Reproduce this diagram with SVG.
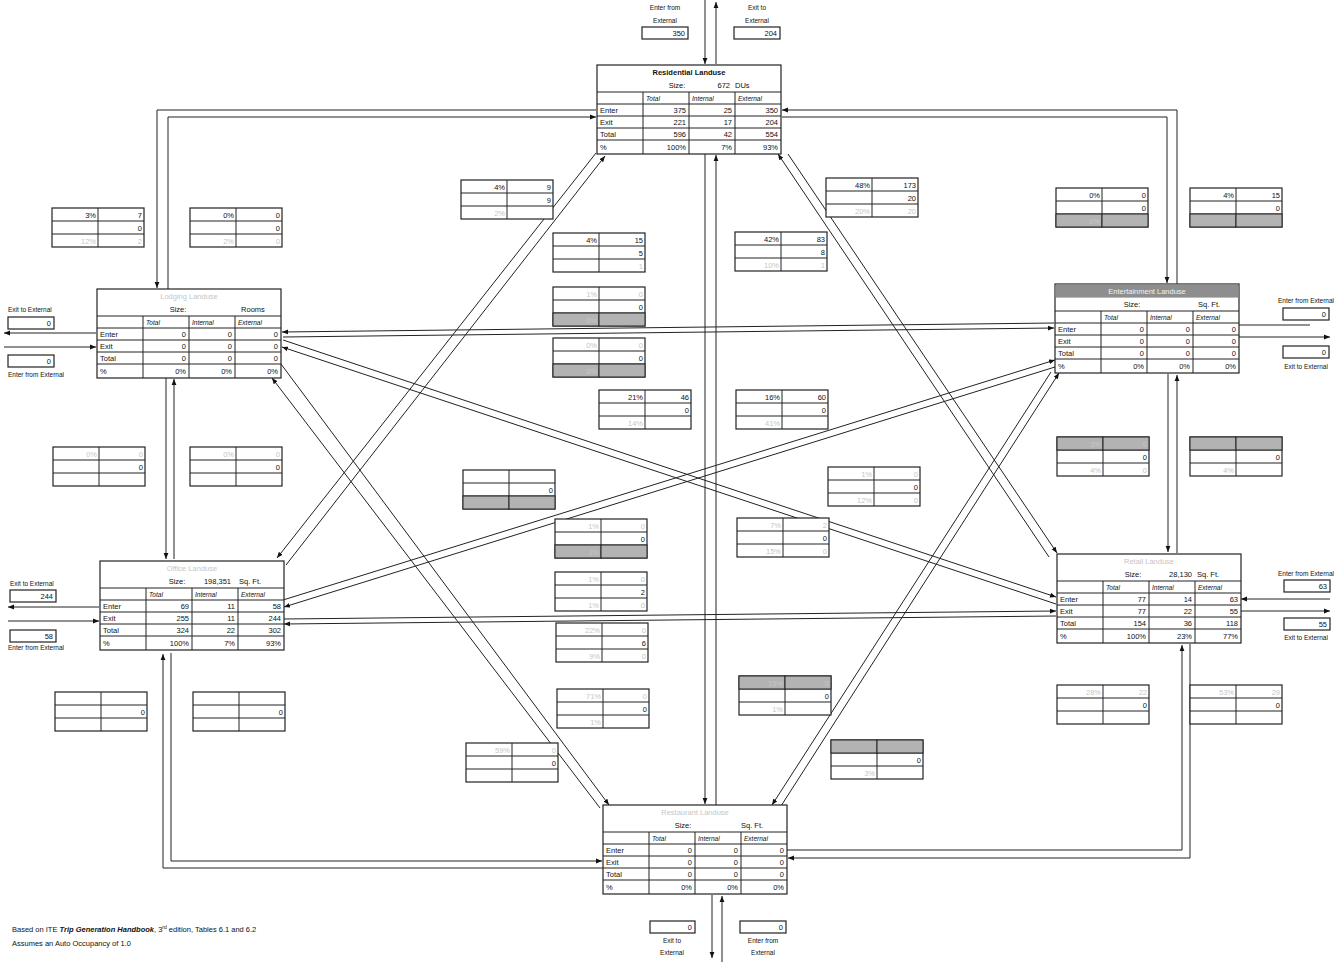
<svg xmlns="http://www.w3.org/2000/svg" xmlns:xlink="http://www.w3.org/1999/xlink" width="1338" height="962" viewBox="0 0 1338 962">
<style>
text{font-family:"Liberation Sans",Arial,sans-serif;font-size:7.5px;fill:#111}
.n{text-anchor:end}
.m{text-anchor:middle}
.f{fill:#c6c6c6}
.h{font-style:italic;font-size:6.5px}
.ti{font-weight:bold;font-size:7.5px}
.x{font-size:6.5px}
.ln{stroke:#222;stroke-width:1;fill:none}
.bx{fill:#fff;stroke:#222;stroke-width:1.2}
.sh{fill:#b3b3b3;stroke:#222;stroke-width:1}
</style>
<defs>
<marker id="ah" viewBox="0 0 10 10" refX="10" refY="5" markerWidth="6" markerHeight="6" orient="auto"><path d="M0,1 L10,5 L0,9 z" fill="#111"/></marker>
<g id="tbl">
<rect class="bx" x="0" y="0" width="184" height="89"/>
<path class="ln" d="M0,27H184M0,39H184M0,51H184M0,63H184M0,75H184M46,27V89M92,27V89M138,27V89"/>
<text class="h" x="49" y="36">Total</text><text class="h" x="95" y="36">Internal</text><text class="h" x="141" y="36">External</text>
<text x="3" y="48">Enter</text><text x="3" y="60">Exit</text><text x="3" y="72">Total</text><text x="3" y="85">%</text>
</g>
<g id="sb">
<rect class="bx" x="0" y="0" width="92" height="39"/>
<path class="ln" d="M0,13H92M0,26H92M46,0V39"/>
</g>
<g id="s1"><rect class="sh" x="0" y="0" width="46" height="13"/><rect class="sh" x="46" y="0" width="46" height="13"/></g>
<g id="s3"><rect class="sh" x="0" y="26" width="46" height="13"/><rect class="sh" x="46" y="26" width="46" height="13"/></g>
</defs>

<g id="connectors">
<!-- Residential - Lodging -->
<path class="ln" d="M596,110H157V288" marker-end="url(#ah)"/>
<path class="ln" d="M168,289V117H596" marker-end="url(#ah)"/>
<!-- Residential - Entertainment -->
<path class="ln" d="M782,117H1167V283" marker-end="url(#ah)"/>
<path class="ln" d="M1177,284V110H782" marker-end="url(#ah)"/>
<!-- Residential - Office -->
<line class="ln" x1="596" y1="153" x2="277" y2="558" marker-end="url(#ah)"/>
<line class="ln" x1="286" y1="565" x2="605" y2="156" marker-end="url(#ah)"/>
<!-- Residential - Retail -->
<line class="ln" x1="1049" y1="557" x2="778" y2="154" marker-end="url(#ah)"/>
<line class="ln" x1="788" y1="154" x2="1057" y2="553" marker-end="url(#ah)"/>
<!-- Residential - Restaurant -->
<line class="ln" x1="705" y1="154" x2="705" y2="804" marker-end="url(#ah)"/>
<line class="ln" x1="716" y1="805" x2="716" y2="155" marker-end="url(#ah)"/>
<!-- Lodging - Entertainment -->
<line class="ln" x1="1054" y1="323" x2="282" y2="332" marker-end="url(#ah)"/>
<line class="ln" x1="283" y1="337" x2="1054" y2="328" marker-end="url(#ah)"/>
<!-- Lodging - Office -->
<line class="ln" x1="166" y1="378" x2="166" y2="559" marker-end="url(#ah)"/>
<line class="ln" x1="174" y1="559" x2="174" y2="379" marker-end="url(#ah)"/>
<!-- Lodging - Retail -->
<line class="ln" x1="283" y1="340" x2="1056" y2="597" marker-end="url(#ah)"/>
<line class="ln" x1="1056" y1="604" x2="282" y2="347" marker-end="url(#ah)"/>
<!-- Lodging - Restaurant -->
<line class="ln" x1="281" y1="364" x2="609" y2="805" marker-end="url(#ah)"/>
<line class="ln" x1="600" y1="808" x2="272" y2="378" marker-end="url(#ah)"/>
<!-- Entertainment - Office -->
<line class="ln" x1="283" y1="600" x2="1055" y2="360" marker-end="url(#ah)"/>
<line class="ln" x1="1055" y1="367" x2="284" y2="607" marker-end="url(#ah)"/>
<!-- Entertainment - Retail -->
<line class="ln" x1="1168" y1="374" x2="1168" y2="552" marker-end="url(#ah)"/>
<line class="ln" x1="1177" y1="553" x2="1177" y2="375" marker-end="url(#ah)"/>
<!-- Entertainment - Restaurant -->
<line class="ln" x1="1051" y1="372" x2="772" y2="805" marker-end="url(#ah)"/>
<line class="ln" x1="781" y1="806" x2="1059" y2="373" marker-end="url(#ah)"/>
<!-- Office - Retail -->
<line class="ln" x1="283" y1="619" x2="1056" y2="611" marker-end="url(#ah)"/>
<line class="ln" x1="1056" y1="616" x2="284" y2="624" marker-end="url(#ah)"/>
<!-- Office - Restaurant -->
<path class="ln" d="M171,653V861H602" marker-end="url(#ah)"/>
<path class="ln" d="M603,868H163V654" marker-end="url(#ah)"/>
<!-- Retail - Restaurant -->
<path class="ln" d="M1190,644V858H788" marker-end="url(#ah)"/>
<path class="ln" d="M787,850H1182V645" marker-end="url(#ah)"/>
<!-- External arrows -->
<line class="ln" x1="705" y1="0" x2="705" y2="64" marker-end="url(#ah)"/>
<line class="ln" x1="716" y1="64" x2="716" y2="2" marker-end="url(#ah)"/>
<line class="ln" x1="96" y1="333" x2="4" y2="333" marker-end="url(#ah)"/>
<line class="ln" x1="4" y1="347" x2="96" y2="347" marker-end="url(#ah)"/>
<line class="ln" x1="1310" y1="325" x2="1224" y2="325" marker-end="url(#ah)"/>
<line class="ln" x1="1239" y1="337" x2="1330" y2="337" marker-end="url(#ah)"/>
<line class="ln" x1="99" y1="607" x2="8" y2="607" marker-end="url(#ah)"/>
<line class="ln" x1="8" y1="621" x2="99" y2="621" marker-end="url(#ah)"/>
<line class="ln" x1="1330" y1="599" x2="1241" y2="599" marker-end="url(#ah)"/>
<line class="ln" x1="1241" y1="611" x2="1330" y2="611" marker-end="url(#ah)"/>
<line class="ln" x1="712" y1="895" x2="712" y2="958" marker-end="url(#ah)"/>
<line class="ln" x1="722" y1="962" x2="722" y2="896" marker-end="url(#ah)"/>
</g>

<!-- Main tables -->
<g id="residential" transform="translate(597,65)">
<use xlink:href="#tbl"/>
<text class="ti m" x="92" y="10">Residential Landuse</text>
<text class="m" x="80" y="23">Size:</text><text class="n" x="133" y="23">672</text><text x="138" y="23">DUs</text>
<text class="n" x="89" y="48">375</text><text class="n" x="135" y="48">25</text><text class="n" x="181" y="48">350</text>
<text class="n" x="89" y="60">221</text><text class="n" x="135" y="60">17</text><text class="n" x="181" y="60">204</text>
<text class="n" x="89" y="72">596</text><text class="n" x="135" y="72">42</text><text class="n" x="181" y="72">554</text>
<text class="n" x="89" y="85">100%</text><text class="n" x="135" y="85">7%</text><text class="n" x="181" y="85">93%</text>
</g>

<g id="lodging" transform="translate(97,289)">
<use xlink:href="#tbl"/>
<text class="m f" x="92" y="10">Lodging Landuse</text>
<text class="m" x="81" y="23">Size:</text><text class="m" x="156" y="23">Rooms</text>
<text class="n" x="89" y="48">0</text><text class="n" x="135" y="48">0</text><text class="n" x="181" y="48">0</text>
<text class="n" x="89" y="60">0</text><text class="n" x="135" y="60">0</text><text class="n" x="181" y="60">0</text>
<text class="n" x="89" y="72">0</text><text class="n" x="135" y="72">0</text><text class="n" x="181" y="72">0</text>
<text class="n" x="89" y="85">0%</text><text class="n" x="135" y="85">0%</text><text class="n" x="181" y="85">0%</text>
</g>

<g id="entertainment" transform="translate(1055,284)">
<use xlink:href="#tbl"/>
<rect x="0.6" y="0.6" width="182.8" height="13" fill="#8e8e8e"/>
<text class="m" x="92" y="10" style="fill:#f2f2f2">Entertainment Landuse</text>
<text class="m" x="77" y="23">Size:</text><text class="m" x="154" y="23">Sq. Ft.</text>
<text class="n" x="89" y="48">0</text><text class="n" x="135" y="48">0</text><text class="n" x="181" y="48">0</text>
<text class="n" x="89" y="60">0</text><text class="n" x="135" y="60">0</text><text class="n" x="181" y="60">0</text>
<text class="n" x="89" y="72">0</text><text class="n" x="135" y="72">0</text><text class="n" x="181" y="72">0</text>
<text class="n" x="89" y="85">0%</text><text class="n" x="135" y="85">0%</text><text class="n" x="181" y="85">0%</text>
</g>

<g id="office" transform="translate(100,561)">
<use xlink:href="#tbl"/>
<text class="m f" x="92" y="10">Office Landuse</text>
<text class="m" x="77" y="23">Size:</text><text class="n" x="131" y="23">198,351</text><text x="139" y="23">Sq. Ft.</text>
<text class="n" x="89" y="48">69</text><text class="n" x="135" y="48">11</text><text class="n" x="181" y="48">58</text>
<text class="n" x="89" y="60">255</text><text class="n" x="135" y="60">11</text><text class="n" x="181" y="60">244</text>
<text class="n" x="89" y="72">324</text><text class="n" x="135" y="72">22</text><text class="n" x="181" y="72">302</text>
<text class="n" x="89" y="85">100%</text><text class="n" x="135" y="85">7%</text><text class="n" x="181" y="85">93%</text>
</g>

<g id="retail" transform="translate(1057,554)">
<use xlink:href="#tbl"/>
<text class="m f" x="92" y="10">Retail Landuse</text>
<text class="m" x="76" y="23">Size:</text><text class="n" x="135" y="23">28,130</text><text x="140" y="23">Sq. Ft.</text>
<text class="n" x="89" y="48">77</text><text class="n" x="135" y="48">14</text><text class="n" x="181" y="48">63</text>
<text class="n" x="89" y="60">77</text><text class="n" x="135" y="60">22</text><text class="n" x="181" y="60">55</text>
<text class="n" x="89" y="72">154</text><text class="n" x="135" y="72">36</text><text class="n" x="181" y="72">118</text>
<text class="n" x="89" y="85">100%</text><text class="n" x="135" y="85">23%</text><text class="n" x="181" y="85">77%</text>
</g>

<g id="restaurant" transform="translate(603,805)">
<use xlink:href="#tbl"/>
<text class="m f" x="92" y="10">Restaurant Landuse</text>
<text class="m" x="80" y="23">Size:</text><text class="m" x="149" y="23">Sq. Ft.</text>
<text class="n" x="89" y="48">0</text><text class="n" x="135" y="48">0</text><text class="n" x="181" y="48">0</text>
<text class="n" x="89" y="60">0</text><text class="n" x="135" y="60">0</text><text class="n" x="181" y="60">0</text>
<text class="n" x="89" y="72">0</text><text class="n" x="135" y="72">0</text><text class="n" x="181" y="72">0</text>
<text class="n" x="89" y="85">0%</text><text class="n" x="135" y="85">0%</text><text class="n" x="181" y="85">0%</text>
</g>

<!-- External boxes -->
<g id="ext-residential">
<text class="x m" x="665" y="10">Enter from</text><text class="x m" x="665" y="23">External</text>
<rect class="bx" x="642" y="27" width="46" height="12"/><text class="n" x="685" y="36">350</text>
<text class="x m" x="757" y="10">Exit to</text><text class="x m" x="757" y="23">External</text>
<rect class="bx" x="734" y="27" width="46" height="12"/><text class="n" x="777" y="36">204</text>
</g>
<g id="ext-lodging">
<text class="x" x="8" y="312">Exit to External</text>
<rect class="bx" x="8" y="317" width="46" height="12"/><text class="n" x="51" y="326">0</text>
<rect class="bx" x="8" y="355" width="46" height="12"/><text class="n" x="51" y="364">0</text>
<text class="x" x="8" y="377">Enter from External</text>
</g>
<g id="ext-entertainment">
<text class="x m" x="1306" y="303">Enter from External</text>
<rect class="bx" x="1283" y="308" width="46" height="12"/><text class="n" x="1326" y="317">0</text>
<rect class="bx" x="1283" y="346" width="46" height="12"/><text class="n" x="1326" y="355">0</text>
<text class="x m" x="1306" y="369">Exit to External</text>
</g>
<g id="ext-office">
<text class="x" x="10" y="586">Exit to External</text>
<rect class="bx" x="10" y="590" width="46" height="12"/><text class="n" x="53" y="599">244</text>
<rect class="bx" x="10" y="630" width="46" height="12"/><text class="n" x="53" y="639">58</text>
<text class="x" x="8" y="650">Enter from External</text>
</g>
<g id="ext-retail">
<text class="x m" x="1306" y="576">Enter from External</text>
<rect class="bx" x="1284" y="580" width="46" height="12"/><text class="n" x="1327" y="589">63</text>
<rect class="bx" x="1284" y="618" width="46" height="12"/><text class="n" x="1327" y="627">55</text>
<text class="x m" x="1306" y="640">Exit to External</text>
</g>
<g id="ext-restaurant">
<rect class="bx" x="650" y="921" width="45" height="12"/><text class="n" x="692" y="930">0</text>
<text class="x m" x="672" y="943">Exit to</text><text class="x m" x="672" y="955">External</text>
<rect class="bx" x="740" y="921" width="46" height="12"/><text class="n" x="783" y="930">0</text>
<text class="x m" x="763" y="943">Enter from</text><text class="x m" x="763" y="955">External</text>
</g>

<!-- Small split boxes -->
<g id="sA" transform="translate(52,208)"><use xlink:href="#sb"/><text class="n" x="44" y="10">3%</text><text class="n" x="90" y="10">7</text><text class="n" x="90" y="23">0</text><text class="n f" x="44" y="36">12%</text><text class="n f" x="90" y="36">2</text></g>
<g id="sB" transform="translate(190,208)"><use xlink:href="#sb"/><text class="n" x="44" y="10">0%</text><text class="n" x="90" y="10">0</text><text class="n" x="90" y="23">0</text><text class="n f" x="44" y="36">2%</text><text class="n f" x="90" y="36">0</text></g>
<g id="sC" transform="translate(461,180)"><use xlink:href="#sb"/><text class="n" x="44" y="10">4%</text><text class="n" x="90" y="10">9</text><text class="n" x="90" y="23">9</text><text class="n f" x="44" y="36">2%</text></g>
<g id="sD" transform="translate(553,233)"><use xlink:href="#sb"/><text class="n" x="44" y="10">4%</text><text class="n" x="90" y="10">15</text><text class="n" x="90" y="23">5</text><text class="n f" x="90" y="36">1</text></g>
<g id="sE" transform="translate(553,287)"><use xlink:href="#sb"/><use xlink:href="#s3"/><text class="n f" x="44" y="10">1%</text><text class="n f" x="90" y="10">0</text><text class="n" x="90" y="23">0</text><text class="n f" x="44" y="36">0%</text></g>
<g id="sF" transform="translate(553,338)"><use xlink:href="#sb"/><use xlink:href="#s3"/><text class="n f" x="44" y="10">0%</text><text class="n f" x="90" y="10">0</text><text class="n" x="90" y="23">0</text><text class="n f" x="44" y="36">0%</text></g>
<g id="sG" transform="translate(599,390)"><use xlink:href="#sb"/><text class="n" x="44" y="10">21%</text><text class="n" x="90" y="10">46</text><text class="n" x="90" y="23">0</text><text class="n f" x="44" y="36">14%</text></g>
<g id="sH" transform="translate(735,232)"><use xlink:href="#sb"/><text class="n" x="44" y="10">42%</text><text class="n" x="90" y="10">83</text><text class="n" x="90" y="23">8</text><text class="n f" x="44" y="36">10%</text><text class="n f" x="90" y="36">1</text></g>
<g id="sI" transform="translate(826,178)"><use xlink:href="#sb"/><text class="n" x="44" y="10">48%</text><text class="n" x="90" y="10">173</text><text class="n" x="90" y="23">20</text><text class="n f" x="44" y="36">20%</text><text class="n f" x="90" y="36">20</text></g>
<g id="sJ" transform="translate(736,390)"><use xlink:href="#sb"/><text class="n" x="44" y="10">16%</text><text class="n" x="90" y="10">60</text><text class="n" x="90" y="23">0</text><text class="n f" x="44" y="36">41%</text></g>
<g id="sK" transform="translate(1056,188)"><use xlink:href="#sb"/><use xlink:href="#s3"/><text class="n" x="44" y="10">0%</text><text class="n" x="90" y="10">0</text><text class="n" x="90" y="23">0</text><text class="n f" x="44" y="36">0%</text></g>
<g id="sL" transform="translate(1190,188)"><use xlink:href="#sb"/><use xlink:href="#s3"/><text class="n" x="44" y="10">4%</text><text class="n" x="90" y="10">15</text><text class="n" x="90" y="23">0</text></g>
<g id="sM" transform="translate(1057,437)"><use xlink:href="#sb"/><use xlink:href="#s1"/><text class="n f" x="44" y="10">3%</text><text class="n f" x="90" y="10">0</text><text class="n" x="90" y="23">0</text><text class="n f" x="44" y="36">4%</text><text class="n f" x="90" y="36">0</text></g>
<g id="sN" transform="translate(1190,437)"><use xlink:href="#sb"/><use xlink:href="#s1"/><text class="n" x="90" y="23">0</text><text class="n f" x="44" y="36">4%</text></g>
<g id="sO" transform="translate(1057,685)"><use xlink:href="#sb"/><text class="n f" x="44" y="10">28%</text><text class="n f" x="90" y="10">22</text><text class="n" x="90" y="23">0</text></g>
<g id="sP" transform="translate(1190,685)"><use xlink:href="#sb"/><text class="n f" x="44" y="10">53%</text><text class="n f" x="90" y="10">29</text><text class="n" x="90" y="23">0</text></g>
<g id="sQ" transform="translate(53,447)"><use xlink:href="#sb"/><text class="n f" x="44" y="10">0%</text><text class="n f" x="90" y="10">0</text><text class="n" x="90" y="23">0</text></g>
<g id="sR" transform="translate(190,447)"><use xlink:href="#sb"/><text class="n f" x="44" y="10">0%</text><text class="n f" x="90" y="10">0</text><text class="n" x="90" y="23">0</text></g>
<g id="sS" transform="translate(55,692)"><use xlink:href="#sb"/><text class="n" x="90" y="23">0</text></g>
<g id="sT" transform="translate(193,692)"><use xlink:href="#sb"/><text class="n" x="90" y="23">0</text></g>
<g id="sU" transform="translate(463,470)"><use xlink:href="#sb"/><use xlink:href="#s3"/><text class="n" x="90" y="23">0</text></g>
<g id="sV" transform="translate(555,519)"><use xlink:href="#sb"/><use xlink:href="#s3"/><text class="n f" x="44" y="10">1%</text><text class="n f" x="90" y="10">0</text><text class="n" x="90" y="23">0</text><text class="n f" x="44" y="36">3%</text></g>
<g id="sW" transform="translate(555,572)"><use xlink:href="#sb"/><text class="n f" x="44" y="10">1%</text><text class="n f" x="90" y="10">0</text><text class="n" x="90" y="23">2</text><text class="n f" x="44" y="36">1%</text><text class="n f" x="90" y="36">0</text></g>
<g id="sX" transform="translate(556,623)"><use xlink:href="#sb"/><text class="n f" x="44" y="10">22%</text><text class="n f" x="90" y="10">0</text><text class="n" x="90" y="23">6</text><text class="n f" x="44" y="36">9%</text><text class="n f" x="90" y="36">0</text></g>
<g id="sY" transform="translate(557,689)"><use xlink:href="#sb"/><text class="n f" x="44" y="10">71%</text><text class="n f" x="90" y="10">0</text><text class="n" x="90" y="23">0</text><text class="n f" x="44" y="36">1%</text></g>
<g id="sZ" transform="translate(466,743)"><use xlink:href="#sb"/><text class="n f" x="44" y="10">59%</text><text class="n f" x="90" y="10">0</text><text class="n" x="90" y="23">0</text></g>
<g id="sAA" transform="translate(828,467)"><use xlink:href="#sb"/><text class="n f" x="44" y="10">1%</text><text class="n f" x="90" y="10">0</text><text class="n" x="90" y="23">0</text><text class="n f" x="44" y="36">12%</text><text class="n f" x="90" y="36">0</text></g>
<g id="sAB" transform="translate(737,518)"><use xlink:href="#sb"/><text class="n f" x="44" y="10">7%</text><text class="n f" x="90" y="10">2</text><text class="n" x="90" y="23">0</text><text class="n f" x="44" y="36">15%</text><text class="n f" x="90" y="36">0</text></g>
<g id="sAC" transform="translate(739,676)"><use xlink:href="#sb"/><use xlink:href="#s1"/><text class="n f" x="44" y="10">15%</text><text class="n f" x="90" y="10">0</text><text class="n" x="90" y="23">0</text><text class="n f" x="44" y="36">1%</text></g>
<g id="sAD" transform="translate(831,740)"><use xlink:href="#sb"/><use xlink:href="#s1"/><text class="n" x="90" y="23">0</text><text class="n f" x="44" y="36">3%</text></g>

<g id="notes">
<text x="12" y="932">Based on ITE <tspan font-weight="bold" font-style="italic">Trip Generation Handbook</tspan>, 3<tspan font-size="5" dy="-3">rd</tspan><tspan dy="3"> edition, Tables 6.1 and 6.2</tspan></text>
<text x="12" y="946">Assumes an Auto Occupancy of 1.0</text>
</g>
</svg>
